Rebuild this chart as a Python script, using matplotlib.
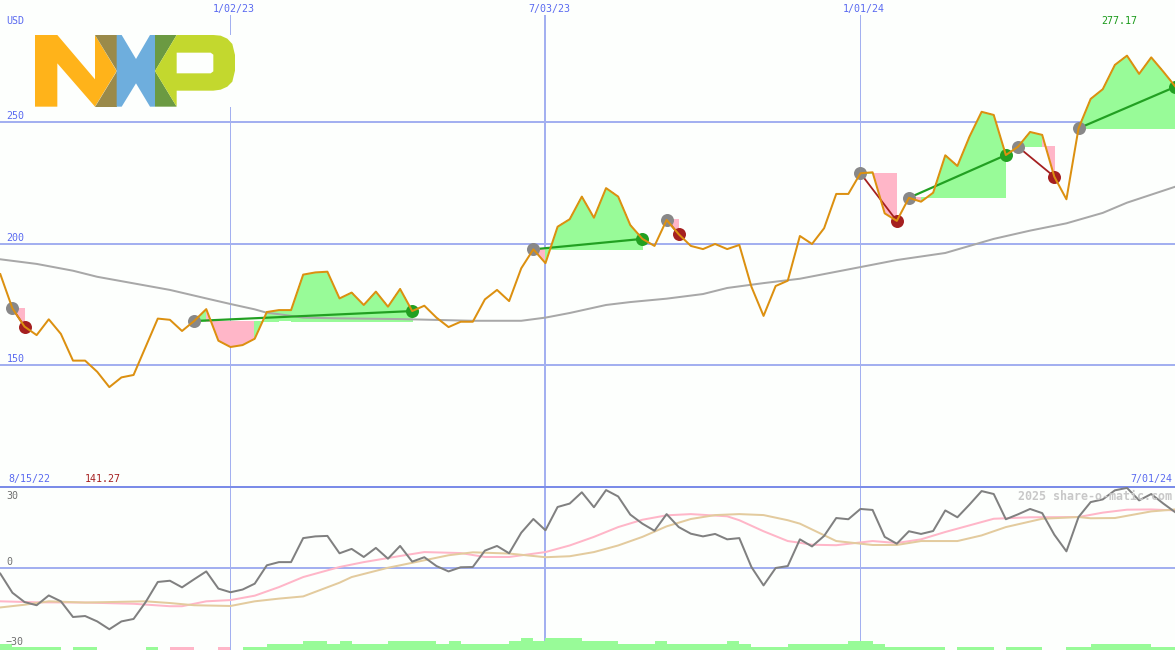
import matplotlib
matplotlib.use("Agg")
import matplotlib.pyplot as plt
from matplotlib.transforms import ScaledTranslation

# weekly closes, USD
close = [187.4, 173.3, 165.8, 162.3, 168.8, 162.8, 151.8, 151.8, 147.2, 140.9,
         144.9, 145.9, 157.5, 169.1, 168.6, 164.0, 168.1, 173.0, 160.0, 157.4,
         158.2, 160.8, 171.8, 172.6, 172.6, 187.2, 188.1, 188.4, 177.4, 179.8,
         174.7, 180.2, 174.0, 181.3, 172.2, 174.4, 169.5, 165.6, 167.8, 167.8,
         177.0, 180.9, 176.3, 189.8, 197.6, 191.9, 206.9, 210.0, 219.3, 210.6,
         222.8, 219.3, 207.6, 201.9, 199.0, 209.7, 203.8, 199.0, 197.7, 199.8,
         197.7, 199.4, 182.2, 170.2, 182.5, 184.7, 203.1, 199.8, 206.3, 220.4,
         220.4, 228.9, 229.3, 212.4, 209.3, 218.8, 217.2, 220.9, 236.3, 231.9,
         244.0, 254.2, 252.9, 236.4, 239.8, 245.9, 244.7, 227.5, 218.2, 247.4,
         259.5, 263.5, 273.5, 277.3, 269.8, 276.6, 270.7, 264.5]

# long moving average, read at selected weeks
ma_week = [0, 3, 6, 8, 11, 14, 17, 19, 21, 22, 23, 25, 28, 33, 39, 43, 45, 47,
           50, 52, 55, 58, 60, 63, 66, 71, 74, 78, 82, 85, 88, 91, 93, 97]
ma_value = [193.5, 191.6, 188.8, 186.3, 183.6, 180.9, 177.4, 175.1, 172.9, 171.5,
            170.9, 169.5, 169.2, 168.9, 168.2, 168.2, 169.5, 171.4, 174.7, 175.9,
            177.3, 179.2, 181.7, 183.7, 185.5, 190.3, 193.2, 196.1, 201.9, 205.3,
            208.3, 212.6, 216.8, 223.4]

# trades as week numbers
trade_entry = [1, 16, 44, 55, 71, 75, 84, 89]
trade_exit = [2, 34, 53, 56, 74, 83, 87, 97]

# lower panel
osc = [-2.3, -10.1, -13.9, -15.2, -11.2, -13.6, -20.0, -19.6, -21.8, -25.0,
       -21.8, -20.8, -13.9, -5.7, -5.2, -7.9, -4.6, -1.4, -8.4, -9.9,
       -8.8, -6.4, 1.1, 2.4, 2.4, 12.2, 12.9, 13.1, 6.0, 7.8,
       4.5, 8.2, 3.8, 9.0, 2.6, 4.4, 0.8, -1.4, 0.3, 0.4,
       7.1, 9.0, 6.0, 14.4, 20.0, 15.4, 24.9, 26.3, 30.9, 24.8,
       31.8, 29.2, 21.8, 18.1, 15.2, 22.0, 16.7, 14.0, 12.9, 13.9,
       11.7, 12.2, 0.4, -7.1, 0.0, 0.8, 11.7, 8.8, 13.1, 20.4,
       19.9, 24.1, 23.7, 12.7, 9.9, 15.0, 13.9, 15.1, 23.5, 20.7,
       25.9, 31.4, 30.2, 19.9, 21.9, 24.1, 22.4, 13.6, 6.8, 20.8,
       26.9, 28.0, 31.7, 32.7, 27.6, 30.2, 26.3, 22.7]

fast_week = [0, 3, 7, 11, 14, 15, 17, 19, 21, 23, 25, 28, 30, 33, 35, 38, 40, 42,
             45, 47, 49, 51, 53, 55, 57, 60, 61, 63, 65, 66, 67, 69, 72, 74, 76,
             78, 80, 82, 85, 89, 91, 93, 95, 97]
fast_value = [-13.6, -14.0, -14.1, -14.6, -15.6, -15.6, -13.6, -13.1, -11.3, -7.8,
              -3.7, 0.4, 2.4, 4.9, 6.5, 6.1, 4.5, 4.5, 6.5, 9.2, 12.7, 16.7, 19.7,
              21.5, 22.0, 21.1, 19.5, 15.0, 11.0, 10.3, 9.5, 9.3, 11.0, 10.2, 11.7,
              14.7, 17.4, 20.1, 20.7, 20.8, 22.6, 23.8, 23.9, 23.5]

slow_week = [0, 2, 4, 7, 12, 14, 16, 19, 21, 23, 25, 28, 29, 32, 33, 37, 39, 42,
             45, 47, 49, 51, 53, 55, 57, 59, 61, 63, 65, 66, 69, 72, 74, 76, 79,
             81, 83, 86, 89, 90, 92, 95, 97]
slow_value = [-16.1, -15.0, -13.6, -14.1, -13.6, -14.3, -15.2, -15.5, -13.6, -12.5,
              -11.6, -6.0, -3.7, 0.1, 1.1, 5.2, 6.4, 5.9, 4.4, 4.8, 6.5, 9.2, 12.7,
              17.0, 20.0, 21.6, 22.0, 21.6, 19.5, 18.1, 11.0, 9.4, 9.4, 11.0, 11.0,
              13.3, 16.7, 20.1, 20.8, 20.3, 20.4, 23.1, 23.9]

# strip along the bottom, signed level per week
levels = [2, 1, 1, 1, 1, 0, 1, 1, 0, 0, 0, 0, 1, 0, -1, -1, 0, 0, -1, 0,
          1, 1, 2, 2, 2, 3, 3, 2, 3, 2, 2, 2, 3, 3, 3, 3, 2, 3, 2, 2,
          2, 2, 3, 4, 3, 4, 4, 4, 3, 3, 3, 2, 2, 2, 3, 2, 2, 2, 2, 2,
          3, 2, 1, 1, 1, 2, 2, 2, 2, 2, 3, 3, 2, 1, 1, 1, 1, 1, 0, 1,
          1, 1, 0, 1, 1, 1, 0, 0, 1, 1, 2, 2, 2, 2, 2, 1, 1, 1]

date_weeks = [19, 45, 71]
date_labels = ["1/02/23", "7/03/23", "1/01/24"]
date_widths = [1, 2, 1]
price_lines = [250, 200, 150]

W, H = 1175, 650
BG = "#fdfffd"
GRID = "#a3b0f0"
LABEL = "#5a6af0"
GREEN_FILL = "#98fb98"
PINK_FILL = "#ffb6c8"
WEEK_PX = 12.115
XLIM = (-0.3 / WEEK_PX, (W - 0.3) / WEEK_PX)
px = 0.72  # one pixel in points at dpi 100

plt.rcParams["font.family"] = "DejaVu Sans Mono"
plt.rcParams["font.size"] = 7.2

fig = plt.figure(figsize=(W / 100, H / 100), dpi=100, facecolor=BG)


def add_axes_px(top, bottom, left=0, right=W):
    ax = fig.add_axes([left / W, 1 - bottom / H, (right - left) / W, (bottom - top) / H])
    for s in ax.spines.values():
        s.set_visible(False)
    return ax


# price panel
ax = add_axes_px(15, 487)
ax.set_facecolor(BG)
ax.set_xlim(*XLIM)
ax.set_ylim(250 - (487 - 122) / 2.43, 250 + (122 - 15) / 2.43)
ax.yaxis.set_visible(False)
ax.xaxis.tick_top()
ax.set_xticks(date_weeks, date_labels, color=LABEL)
ax.tick_params(axis="x", length=0, pad=0.5)
nudge = ScaledTranslation(3.5 / 100, 0, fig.dpi_scale_trans)
for lab in ax.get_xticklabels():
    lab.set_transform(lab.get_transform() + nudge)

for wk, lw in zip(date_weeks, date_widths):
    ax.axvline(wk, color=GRID, lw=lw * px, zorder=1)
for v in price_lines:
    ax.axhline(v, color=GRID, lw=2 * px, zorder=1)
    ax.text(0.5, v + 0.4, str(v), color=LABEL, va="bottom", ha="left", zorder=6)

# profit/loss areas between the close and the entry price
for a, b in zip(trade_entry, trade_exit):
    base = close[a]
    for i in range(a, b):
        col = GREEN_FILL if close[i + 1] >= base else PINK_FILL
        ax.fill([i, i + 1, i + 1, i], [close[i], close[i + 1], base, base],
                color=col, lw=0, antialiased=False, zorder=2)

ax.plot(ma_week, ma_value, color="#a8a8a8", lw=2 * px, zorder=3)

for a, b in zip(trade_entry, trade_exit):
    won = close[b] >= close[a]
    col = "#22a022" if won else "#a52020"
    ax.plot([a, b], [close[a], close[b]], color=col, lw=(2.2 if won else 1.8) * px, zorder=4)
    ax.plot([a], [close[a]], "o", ms=13 * px, mfc="#888888", mec="none", zorder=4)
    ax.plot([b], [close[b]], "o", ms=13 * px, mfc=col, mec="none", zorder=4)

ax.plot(range(len(close)), close, color="#dc9010", lw=2 * px, zorder=5)

fig.text(6 / W, 1 - 21 / H, "USD", color=LABEL, va="center", ha="left")
fig.text(1101 / W, 1 - 21 / H, "277.17", color="#1a9a1a", va="center", ha="left")
fig.text(8 / W, 1 - 479 / H, "8/15/22", color=LABEL, va="center", ha="left")
fig.text(85 / W, 1 - 479 / H, "141.27", color="#a52020", va="center", ha="left")
fig.text(1172 / W, 1 - 479 / H, "7/01/24", color=LABEL, va="center", ha="right")

# oscillator panel
ax2 = add_axes_px(487, 650)
ax2.set_facecolor(BG)
ax2.set_xlim(*XLIM)
ax2.set_ylim(-(650 - 568) / 2.45, (568 - 487) / 2.45)
ax2.set_xticks([])
ax2.set_yticks([])
for wk, lw in zip(date_weeks, date_widths):
    ax2.axvline(wk, color=GRID, lw=lw * px, zorder=1)
ax2.axhline(0, color=GRID, lw=2 * px, zorder=1)
ax2.axhline(ax2.get_ylim()[1], color="#7b8ce8", lw=2 * px, zorder=2, clip_on=False)

ax2.plot(fast_week, fast_value, color="#ffb6c8", lw=2 * px, zorder=3)
ax2.plot(slow_week, slow_value, color="#e3cb9e", lw=2 * px, zorder=3)
ax2.plot(range(len(osc)), osc, color="#808080", lw=2 * px, zorder=4)

for lab, y in [("30", 496), ("0", 562), ("\u221230", 642)]:
    fig.text(6 / W, 1 - y / H, lab, color="#707070", va="center", ha="left", zorder=6)
fig.text(1172 / W, 1 - 496 / H, "2025 share-o-matic.com", color="#c8c8c8",
         fontsize=8.4, fontweight="bold", va="center", ha="right", zorder=6)

# bottom strip, 3 px per level
ax3 = add_axes_px(635, 650)
ax3.patch.set_alpha(0)
ax3.set_xlim(*XLIM)
ax3.set_ylim(0, 5)
ax3.set_xticks([])
ax3.set_yticks([])
ax3.bar(range(len(levels)), [abs(v) for v in levels], width=1.0, align="edge",
        color=[GREEN_FILL if v > 0 else PINK_FILL for v in levels], lw=0, antialiased=False)

# logo, white box covers the grid line behind it
logo = add_axes_px(35, 107, 35, 236)
logo.set_facecolor(BG)
logo.set_xlim(105, 708)
logo.set_ylim(321, 105)
logo.set_xticks([])
logo.set_yticks([])
logo.fill([105, 172, 285, 285, 350, 285, 172, 172, 105],
          [105, 105, 238, 105, 213, 320, 190, 320, 320], color="#ffb31a", lw=0)
logo.fill([285, 350, 350], [105, 105, 213], color="#9a8a4a", lw=0)
logo.fill([350, 350, 285], [213, 320, 320], color="#9a8a4a", lw=0)
logo.fill([350, 365, 408, 450, 465, 465, 450, 408, 365, 350],
          [105, 105, 177, 105, 105, 320, 320, 250, 320, 320], color="#6eaedd", lw=0)
logo.fill([465, 530, 465], [105, 105, 213], color="#6b9a42", lw=0)
logo.fill([465, 530, 465], [213, 320, 320], color="#6b9a42", lw=0)
logo.fill([530, 640, 662, 682, 697, 705, 705, 697, 682, 662, 640, 530, 530, 465],
          [105, 105, 107, 116, 132, 165, 212, 245, 260, 269, 272, 272, 320, 213],
          color="#c3d82e", lw=0)
logo.fill([530, 632, 640, 640, 632, 530], [158, 158, 164, 214, 220, 220], color=BG, lw=0)

fig.savefig("out.png", dpi=100, facecolor=BG)
